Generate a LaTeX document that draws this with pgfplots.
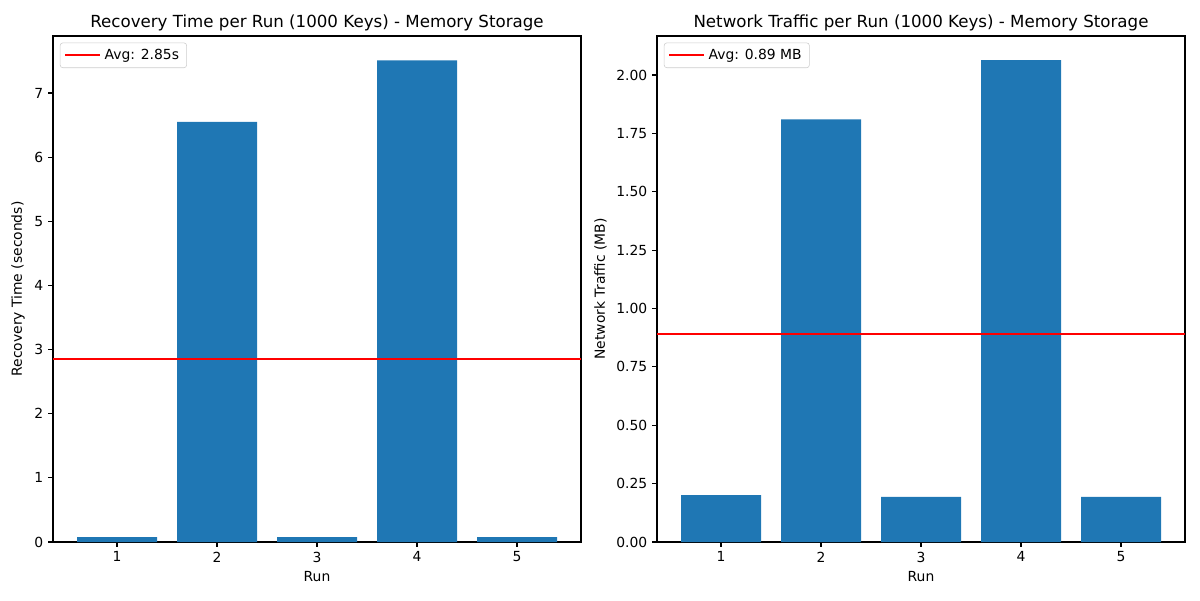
\documentclass[border=0pt]{standalone}
\usepackage{fontspec}
\setmainfont{DejaVu Sans}
\usepackage{pgfplots}
\pgfplotsset{compat=1.18}
\definecolor{mplblue}{HTML}{1F77B4}
\pgfplotsset{
  common/.style={
    scale only axis,
    width=380.16pt, height=364.32pt,
    xmin=0.36, xmax=5.64, ymin=0,
    xtick={1,2,3,4,5},
    tick align=outside, tick pos=left,
    major tick length=3.5pt,
    axis line style={line width=0.8pt},
    every tick/.style={black, line width=0.8pt},
    /pgf/number format/assume math mode=true,
    tick label style={font=\fontsize{10}{12}\selectfont},
    label style={font=\fontsize{10}{12}\selectfont},
    title style={font=\fontsize{12}{14}\selectfont, yshift=-6pt},
    xlabel={Run},
    legend style={at={(0.013,0.987)}, anchor=north west, draw=black!20, rounded corners=2pt,
      font=\fontsize{10}{12}\selectfont, inner xsep=3pt, inner ysep=3.5pt,
      nodes={inner xsep=2.5pt, inner ysep=1pt}},
    legend cell align=left,
    legend image code/.code={\draw[#1] (0pt,0pt) -- (20pt,0pt); \path (0pt,0pt) -- (25pt,0pt);},
    anchor=south west,
  }
}
\begin{document}
\begin{tikzpicture}
\path (0,0) rectangle (864pt,432pt);
\begin{axis}[common, at={(38.16pt,41.76pt)},
  ymax=7.889,
  ytick={0,1,2,3,4,5,6,7},
  ylabel={Recovery Time (seconds)},
  title={Recovery Time per Run (1000 Keys) - Memory Storage}]
\addplot[ybar, bar width=0.8, fill=mplblue, draw=none, forget plot] coordinates {(1,0.075) (2,6.55) (3,0.075) (4,7.51) (5,0.075)};
\addplot[red, line width=1.5pt] coordinates {(0.36,2.85) (5.64,2.85)};
\addlegendentry{Avg: 2.85s}
\end{axis}
\begin{axis}[common, at={(473.04pt,41.76pt)},
  ymax=2.167,
  ytick={0,0.25,0.5,0.75,1,1.25,1.5,1.75,2},
  yticklabel style={/pgf/number format/.cd, fixed, fixed zerofill, precision=2},
  ylabel={Network Traffic (MB)},
  title={Network Traffic per Run (1000 Keys) - Memory Storage}]
\addplot[ybar, bar width=0.8, fill=mplblue, draw=none, forget plot] coordinates {(1,0.201) (2,1.81) (3,0.193) (4,2.064) (5,0.193)};
\addplot[red, line width=1.5pt] coordinates {(0.36,0.89) (5.64,0.89)};
\addlegendentry{Avg: 0.89 MB}
\end{axis}
\end{tikzpicture}
\end{document}
